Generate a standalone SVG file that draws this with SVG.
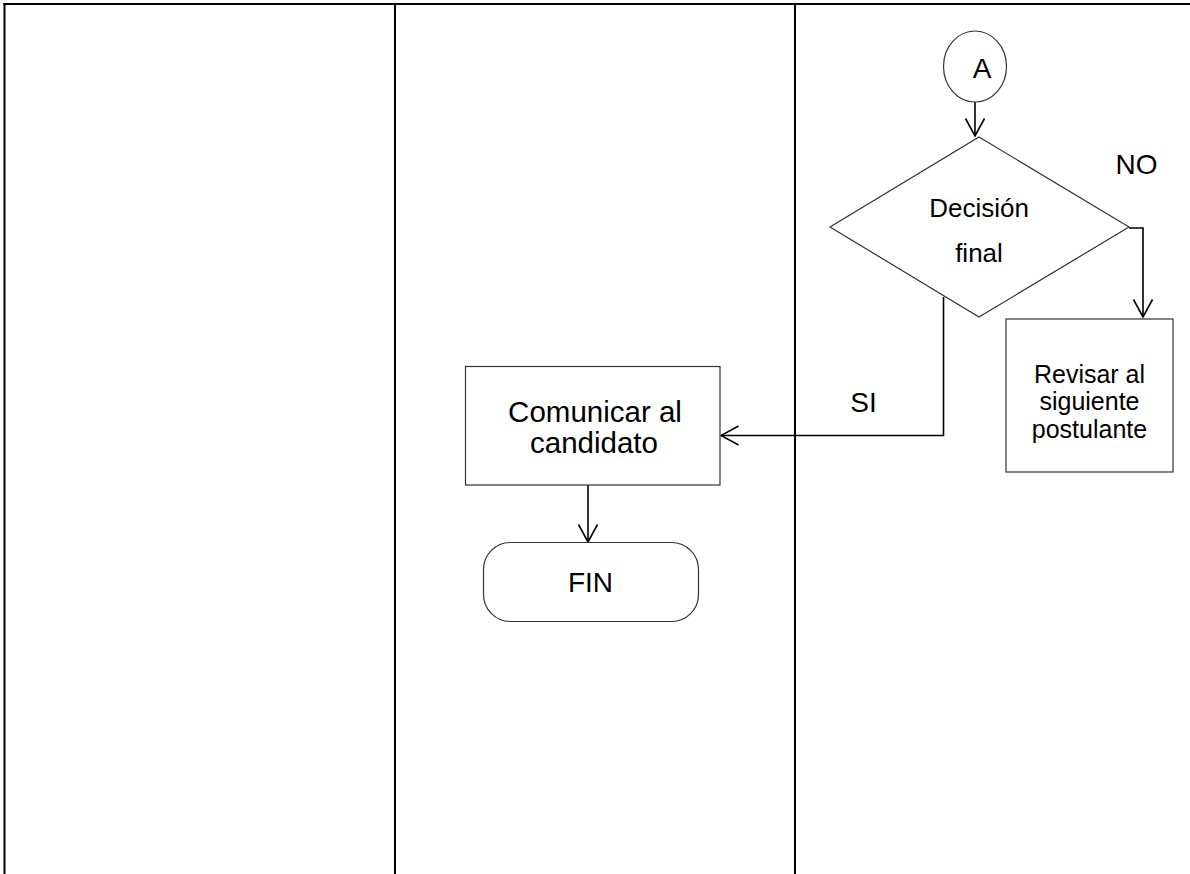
<svg xmlns="http://www.w3.org/2000/svg" width="1190" height="874" viewBox="0 0 1190 874">
<style>
.frame{stroke:#000;stroke-width:2;fill:none}
.shape{fill:#fff;stroke:#333;stroke-width:1.2}
.conn{fill:none;stroke:#000;stroke-width:1.6}
.t{font-family:"Liberation Sans",Arial,sans-serif;fill:#000;text-anchor:middle}
</style>
<defs>
<marker id="arr" viewBox="-19 -11 20 22" markerWidth="20" markerHeight="22" refX="0" refY="0" orient="auto" markerUnits="userSpaceOnUse">
<path d="M-17.5,-9.5 L0,0 L-17.5,9.5" fill="none" stroke="#000" stroke-width="1.6"/>
</marker>
</defs>
<rect width="1190" height="874" fill="#fff"/>
<g id="frame">
<line class="frame" x1="3.5" y1="4" x2="1190" y2="4"/>
<line class="frame" x1="4.5" y1="3" x2="4.5" y2="874"/>
<line class="frame" x1="395" y1="3" x2="395" y2="874"/>
<line class="frame" x1="795" y1="3" x2="795" y2="874"/>
</g>
<g id="connectors">
<line class="conn" x1="975" y1="102" x2="975" y2="136" marker-end="url(#arr)"/>
<polyline class="conn" points="1129,228 1143,228 1143,317" marker-end="url(#arr)"/>
<polyline class="conn" points="943.5,297 943.5,435.5 721,435.5" marker-end="url(#arr)"/>
<line class="conn" x1="588" y1="485" x2="588" y2="542" marker-end="url(#arr)"/>
<text class="t" x="1136.5" y="174" font-size="28">NO</text>
<text class="t" x="863.5" y="412" font-size="28">SI</text>
</g>
<g id="connectorA">
<ellipse class="shape" cx="975" cy="66.5" rx="31.5" ry="35.5"/>
<text class="t" x="982" y="78" font-size="28">A</text>
</g>
<g id="decision">
<polygon class="shape" points="979,137 1129,227 979,317 830,227"/>
<text class="t" x="979" y="217" font-size="26">Decisión</text>
<text class="t" x="979" y="262" font-size="26">final</text>
</g>
<g id="revisar">
<rect class="shape" x="1006" y="319" width="167" height="153"/>
<text class="t" x="1089.5" y="382.5" font-size="25">Revisar al</text>
<text class="t" x="1089.5" y="410" font-size="25">siguiente</text>
<text class="t" x="1089.5" y="437.5" font-size="25">postulante</text>
</g>
<g id="comunicar">
<rect class="shape" x="465.5" y="366.5" width="254.5" height="118.5"/>
<text class="t" x="595" y="422" font-size="29.5">Comunicar al</text>
<text class="t" x="594" y="453" font-size="29.5">candidato</text>
</g>
<g id="fin">
<rect class="shape" x="483.5" y="542.5" width="215" height="79" rx="27" ry="27"/>
<text class="t" x="590.5" y="592" font-size="28">FIN</text>
</g>
</svg>
